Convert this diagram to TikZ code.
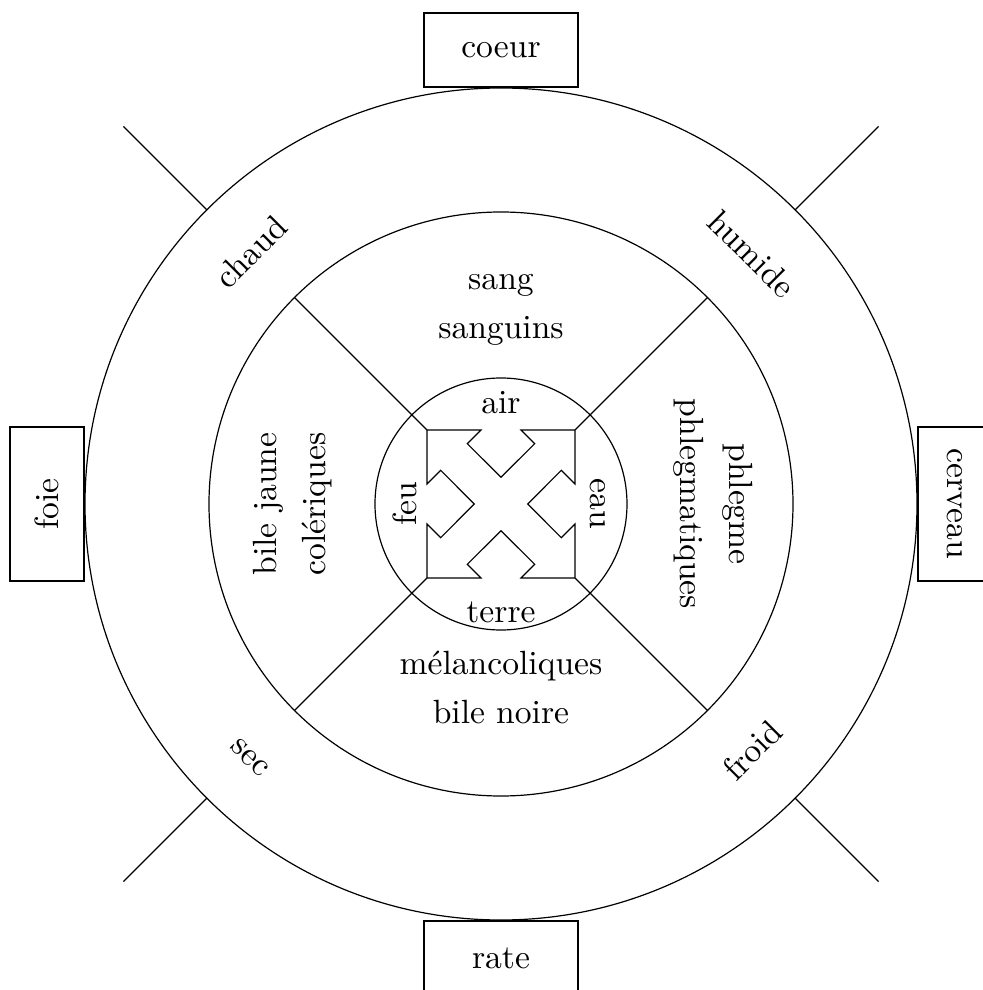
\documentclass[tikz,border=0pt]{standalone}
\usepackage{fontspec}
\setmainfont{lmroman10-regular.otf}
\usepackage{tikz}
\newcommand{\humfont}{\fontsize{16.8}{24.5}\selectfont}
\tikzset{
  ring/.style={circle, draw, inner sep=0pt, outer sep=0pt},
  organ/.style={rectangle, draw, fill=white, minimum width=77pt, minimum height=37pt,
    inner sep=0pt, font=\humfont},
  txt/.style={align=center, inner sep=0pt, font=\humfont},
}

\begin{document}
\begin{tikzpicture}[x=0.5pt, y=0.5pt, line width=0.6pt]
  \useasboundingbox (-501,-486) rectangle (482,504);
  % ── three rings ───────────────────────────────────────────────────
  \node[ring, minimum size=416pt] (outer) at (0,0) {};
  \node[ring, minimum size=292pt] (middle) at (0,0) {};
  \node[ring, minimum size=126pt] (inner) at (0,0) {};
  % ── organs ────────────────────────────────────────────────────────
  \node[organ] (coeur) at (0,454) {coeur};
  \node[organ, rotate=90] (foie) at (-454,0) {foie};
  \node[organ, rotate=-90] (cerveau) at (454,0) {cerveau};
  \node[organ] (rate) at (0,-454) {rate};
  % ── spokes ────────────────────────────────────────────────────────
  \foreach \a in {45,135,225,315} {
    \coordinate (corner\a) at (\a:104.7);
    \coordinate (tip\a) at (\a:534);
    \draw (middle.\a) -- (corner\a);
    \draw (outer.\a) -- (tip\a);
  }
  % ── four-headed arrow ─────────────────────────────────────────────
  \draw (150.8:69.1) \foreach \r in {0,90,180,270} {
      -- ({150.8-\r}:69.1) -- ({164.9-\r}:76.7) -- ({135-\r}:104.7)
      -- ({105.1-\r}:76.7) -- ({119.2-\r}:69.1) -- ({90-\r}:26.7)} -- cycle;
  % ── humours ───────────────────────────────────────────────────────
  \node[txt] (sang) at (0,194) {sang\\sanguins};
  \node[txt] (melan) at (0,-183) {mélancoliques\\bile noire};
  \node[txt, rotate=90] (bile) at (-208,0) {bile jaune\\colériques};
  \node[txt, rotate=-90] (phlegme) at (212,0) {phlegme\\phlegmatiques};
  % ── elements ──────────────────────────────────────────────────────
  \node[txt] (air) at (0,101) {air};
  \node[txt] (terre) at (0,-108) {terre};
  \node[txt, rotate=90] (feu) at (-96,0) {feu};
  \node[txt, rotate=-90] (eau) at (97,0) {eau};
  % ── qualities ─────────────────────────────────────────────────────
  \node[txt, rotate=45] (chaud) at (-250,252) {chaud};
  \node[txt, rotate=-45] (humide) at (251,250) {humide};
  \node[txt, rotate=-45] (sec) at (-251,-254) {sec};
  \node[txt, rotate=45] (froid) at (251,-246) {froid};
\end{tikzpicture}
\end{document}
